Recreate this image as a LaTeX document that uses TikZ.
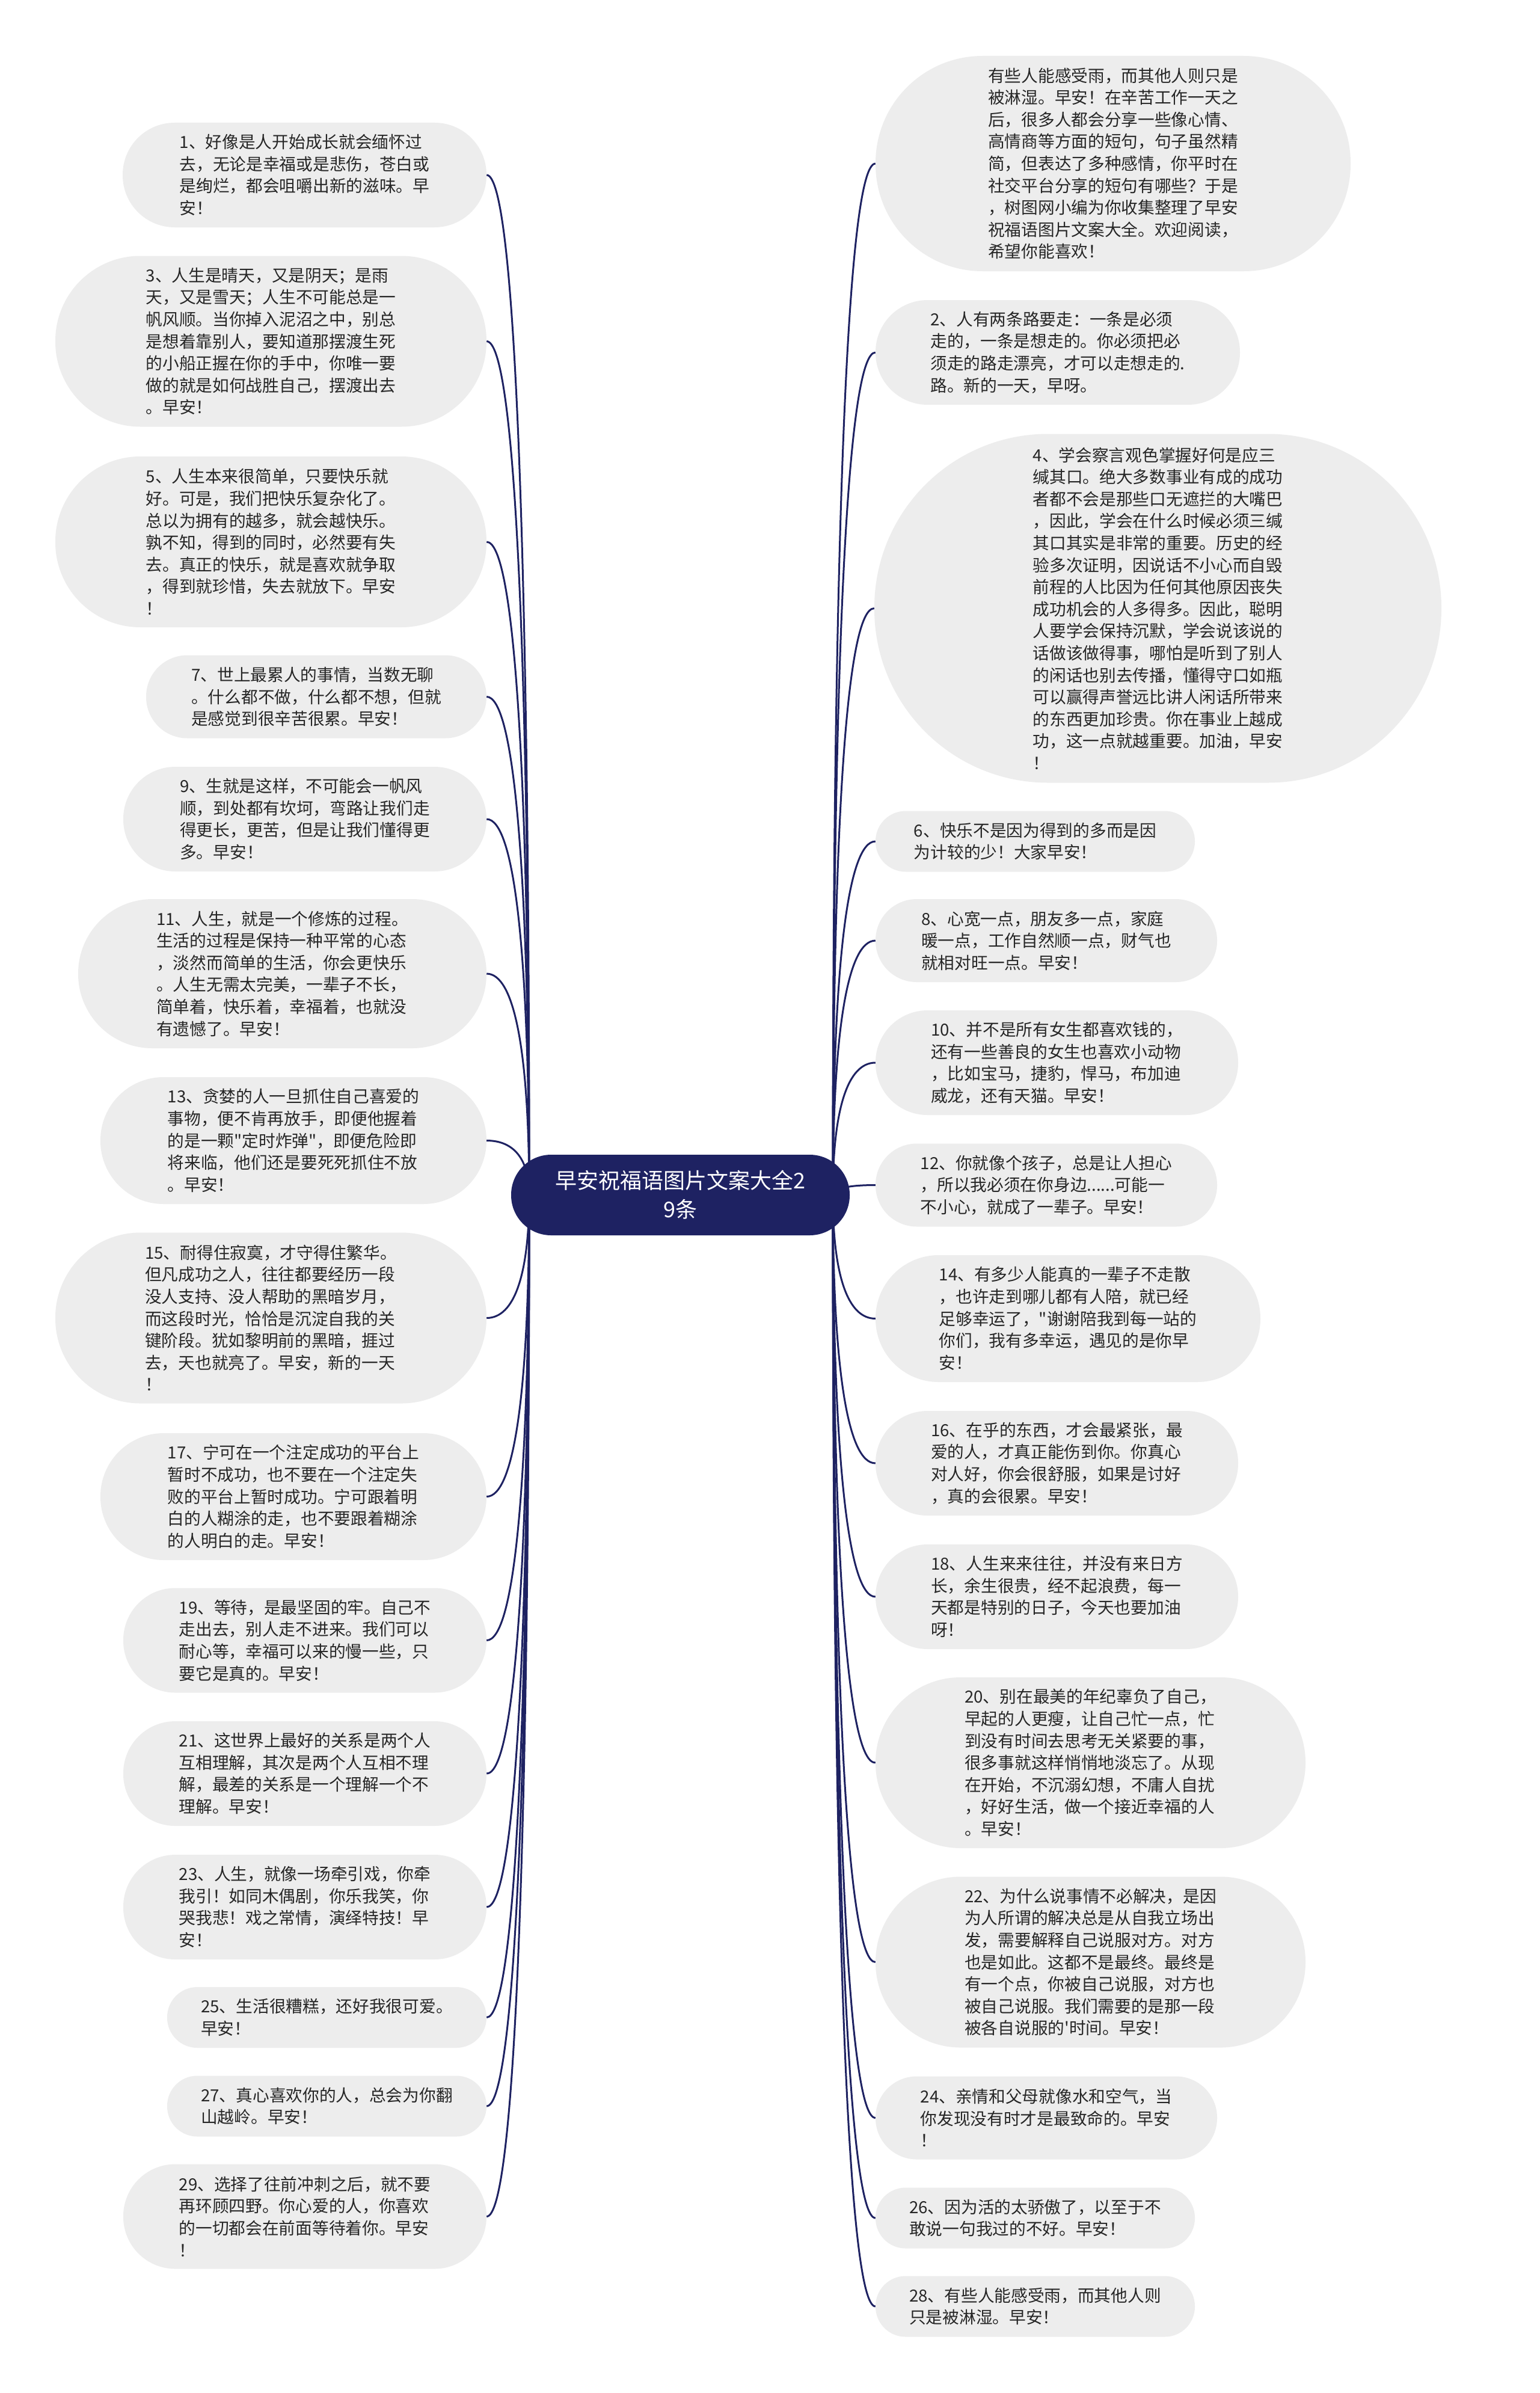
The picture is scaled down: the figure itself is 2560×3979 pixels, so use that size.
\documentclass[tikz,border=0pt]{standalone}
\usepackage{fontspec}
\newfontfamily\cjk{Noto Sans CJK SC}
\usetikzlibrary{calc}
\definecolor{navy}{HTML}{1E2262}
\definecolor{boxgray}{HTML}{EDEDED}
\definecolor{txt}{HTML}{262626}
\pgfdeclarelayer{back}
\pgfdeclarelayer{bg}
\pgfsetlayers{back,bg,main}
\tikzset{
  box/.style={fill=boxgray, inner sep=0pt, align=left, text=txt,
    font=\cjk\fontsize{27.7pt}{36.6pt}\selectfont},
  rootbox/.style={fill=navy, text=white, align=center, inner sep=0pt,
    font=\cjk\fontsize{36pt}{48pt}\selectfont},
  conn/.style={draw=navy, line width=3pt},
  h2/.style={minimum height=101pt, rounded corners=50pt},
  h3/.style={minimum height=138pt, rounded corners=68.5pt},
  h4/.style={minimum height=174pt, rounded corners=86.5pt},
  h5/.style={minimum height=211pt, rounded corners=105pt},
  h6/.style={minimum height=248pt, rounded corners=123.5pt},
  h7/.style={minimum height=284pt, rounded corners=141.5pt},
}
\begin{document}
\begin{tikzpicture}[x=1pt,y=-1pt]
\begin{pgfonlayer}{back}
\fill[white] (0,0) rectangle (2560,3979);
\end{pgfonlayer}
\useasboundingbox (0,0) rectangle (2560,3979);

% root
\node[rootbox, minimum width=563pt, minimum height=134pt, rounded corners=66.5pt] (root) at (1131.5,1987) {早安祝福语图片文案大全2\\9条};
\coordinate (rl) at (880,1987);
\coordinate (rr) at (1385,1987);

% left boxes
\node[box,h4,minimum width=605pt] (L1) at (506.5,291) {1、好像是人开始成长就会缅怀过\\去，无论是幸福或是悲伤，苍白或\\是绚烂，都会咀嚼出新的滋味。早\\安！};
\node[box,h7,minimum width=717pt] (L3) at (450.5,567.5) {3、人生是晴天，又是阴天；是雨\\天，又是雪天；人生不可能总是一\\帆风顺。当你掉入泥沼之中，别总\\是想着靠别人，要知道那摆渡生死\\的小船正握在你的手中，你唯一要\\做的就是如何战胜自己，摆渡出去\\。早安！};
\node[box,h7,minimum width=717pt] (L5) at (450.5,901) {5、人生本来很简单，只要快乐就\\好。可是，我们把快乐复杂化了。\\总以为拥有的越多，就会越快乐。\\孰不知，得到的同时，必然要有失\\去。真正的快乐，就是喜欢就争取\\，得到就珍惜，失去就放下。早安\\！};
\node[box,h3,minimum width=566pt] (L7) at (526,1158.5) {7、世上最累人的事情，当数无聊\\。什么都不做，什么都不想，但就\\是感觉到很辛苦很累。早安！};
\node[box,h4,minimum width=604pt] (L9) at (507,1362) {9、生就是这样，不可能会一帆风\\顺，到处都有坎坷，弯路让我们走\\得更长，更苦，但是让我们懂得更\\多。早安！};
\node[box,h6,minimum width=679pt] (L11) at (469.5,1619) {11、人生，就是一个修炼的过程。\\生活的过程是保持一种平常的心态\\，淡然而简单的生活，你会更快乐\\。人生无需太完美，一辈子不长，\\简单着，快乐着，幸福着，也就没\\有遗憾了。早安！};
\node[box,h5,minimum width=642pt] (L13) at (488,1896.5) {13、贪婪的人一旦抓住自己喜爱的\\事物，便不肯再放手，即便他握着\\的是一颗"定时炸弹"，即便危险即\\将来临，他们还是要死死抓住不放\\。早安！};
\node[box,h7,minimum width=717pt] (L15) at (450.5,2191.5) {15、耐得住寂寞，才守得住繁华。\\但凡成功之人，往往都要经历一段\\没人支持、没人帮助的黑暗岁月，\\而这段时光，恰恰是沉淀自我的关\\键阶段。犹如黎明前的黑暗，捱过\\去，天也就亮了。早安，新的一天\\！};
\node[box,h5,minimum width=642pt] (L17) at (488,2488.5) {17、宁可在一个注定成功的平台上\\暂时不成功，也不要在一个注定失\\败的平台上暂时成功。宁可跟着明\\白的人糊涂的走，也不要跟着糊涂\\的人明白的走。早安！};
\node[box,h4,minimum width=604pt] (L19) at (507,2727.5) {19、等待，是最坚固的牢。自己不\\走出去，别人走不进来。我们可以\\耐心等，幸福可以来的慢一些，只\\要它是真的。早安！};
\node[box,h4,minimum width=604pt] (L21) at (507,2949) {21、这世界上最好的关系是两个人\\互相理解，其次是两个人互相不理\\解，最差的关系是一个理解一个不\\理解。早安！};
\node[box,h4,minimum width=604pt] (L23) at (507,3171) {23、人生，就像一场牵引戏，你牵\\我引！如同木偶剧，你乐我笑，你\\哭我悲！戏之常情，演绎特技！早\\安！};
\node[box,h2,minimum width=531pt] (L25) at (543.5,3354.5) {25、生活很糟糕，还好我很可爱。\\早安！};
\node[box,h2,minimum width=531pt] (L27) at (543.5,3502) {27、真心喜欢你的人，总会为你翻\\山越岭。早安！};
\node[box,h4,minimum width=604pt] (L29) at (507,3685.5) {29、选择了往前冲刺之后，就不要\\再环顾四野。你心爱的人，你喜欢\\的一切都会在前面等待着你。早安\\！};

% right boxes
\node[box,minimum width=790pt,minimum height=358pt,rounded corners=178pt] (R0) at (1851,272) {有些人能感受雨，而其他人则只是\\被淋湿。早安！在辛苦工作一天之\\后，很多人都会分享一些像心情、\\高情商等方面的短句，句子虽然精\\简，但表达了多种感情，你平时在\\社交平台分享的短句有哪些？于是\\，树图网小编为你收集整理了早安\\祝福语图片文案大全。欢迎阅读，\\希望你能喜欢！};
\node[box,h4,minimum width=606pt] (R2) at (1759,586) {2、人有两条路要走：一条是必须\\走的，一条是想走的。你必须把必\\须走的路走漂亮，才可以走想走的.\\路。新的一天，早呀。};
\node[box,minimum width=943pt,minimum height=580pt,rounded corners=289pt] (R4) at (1925.5,1011.5) {4、学会察言观色掌握好何是应三\\缄其口。绝大多数事业有成的成功\\者都不会是那些口无遮拦的大嘴巴\\，因此，学会在什么时候必须三缄\\其口其实是非常的重要。历史的经\\验多次证明，因说话不小心而自毁\\前程的人比因为任何其他原因丧失\\成功机会的人多得多。因此，聪明\\人要学会保持沉默，学会说该说的\\话做该做得事，哪怕是听到了别人\\的闲话也别去传播，懂得守口如瓶\\可以赢得声誉远比讲人闲话所带来\\的东西更加珍贵。你在事业上越成\\功，这一点就越重要。加油，早安\\！};
\node[box,h2,minimum width=531pt] (R6) at (1721.5,1399) {6、快乐不是因为得到的多而是因\\为计较的少！大家早安！};
\node[box,h3,minimum width=568pt] (R8) at (1740,1564) {8、心宽一点，朋友多一点，家庭\\暖一点，工作自然顺一点，财气也\\就相对旺一点。早安！};
\node[box,h4,minimum width=603pt] (R10) at (1757.5,1767) {10、并不是所有女生都喜欢钱的，\\还有一些善良的女生也喜欢小动物\\，比如宝马，捷豹，悍马，布加迪\\威龙，还有天猫。早安！};
\node[box,h3,minimum width=568pt] (R12) at (1740,1970.5) {12、你就像个孩子，总是让人担心\\，所以我必须在你身边......可能一\\不小心，就成了一辈子。早安！};
\node[box,h5,minimum width=640pt] (R14) at (1776,2192.5) {14、有多少人能真的一辈子不走散\\，也许走到哪儿都有人陪，就已经\\足够幸运了，"谢谢陪我到每一站的\\你们，我有多幸运，遇见的是你早\\安！};
\node[box,h4,minimum width=603pt] (R16) at (1757.5,2433) {16、在乎的东西，才会最紧张，最\\爱的人，才真正能伤到你。你真心\\对人好，你会很舒服，如果是讨好\\，真的会很累。早安！};
\node[box,h4,minimum width=603pt] (R18) at (1757.5,2655) {18、人生来来往往，并没有来日方\\长，余生很贵，经不起浪费，每一\\天都是特别的日子，今天也要加油\\呀！};
\node[box,h7,minimum width=715pt] (R20) at (1813.5,2931) {20、别在最美的年纪辜负了自己，\\早起的人更瘦，让自己忙一点，忙\\到没有时间去思考无关紧要的事，\\很多事就这样悄悄地淡忘了。从现\\在开始，不沉溺幻想，不庸人自扰\\，好好生活，做一个接近幸福的人\\。早安！};
\node[box,h7,minimum width=715pt] (R22) at (1813.5,3262.5) {22、为什么说事情不必解决，是因\\为人所谓的解决总是从自我立场出\\发，需要解释自己说服对方。对方\\也是如此。这都不是最终。最终是\\有一个点，你被自己说服，对方也\\被自己说服。我们需要的是那一段\\被各自说服的'时间。早安！};
\node[box,h3,minimum width=568pt] (R24) at (1740,3521.5) {24、亲情和父母就像水和空气，当\\你发现没有时才是最致命的。早安\\！};
\node[box,h2,minimum width=531pt] (R26) at (1721.5,3688) {26、因为活的太骄傲了，以至于不\\敢说一句我过的不好。早安！};
\node[box,h2,minimum width=531pt] (R28) at (1721.5,3835) {28、有些人能感受雨，而其他人则\\只是被淋湿。早安！};

% connectors
\begin{pgfonlayer}{bg}
\foreach \n in {L1,L3,L5,L7,L9,L11,L13,L15,L17,L19,L21,L23,L25,L27,L29}
  \draw[conn] (rl) .. controls ($(rl)!0.65!(rl |- \n.east)$) and ($(\n.east)!0.65!(rl |- \n.east)$) .. (\n.east);
\foreach \n in {R0,R2,R4,R6,R8,R10,R12,R14,R16,R18,R20,R22,R24,R26,R28}
  \draw[conn] (rr) .. controls ($(rr)!0.65!(rr |- \n.west)$) and ($(\n.west)!0.65!(rr |- \n.west)$) .. (\n.west);
\end{pgfonlayer}
\end{tikzpicture}
\end{document}
